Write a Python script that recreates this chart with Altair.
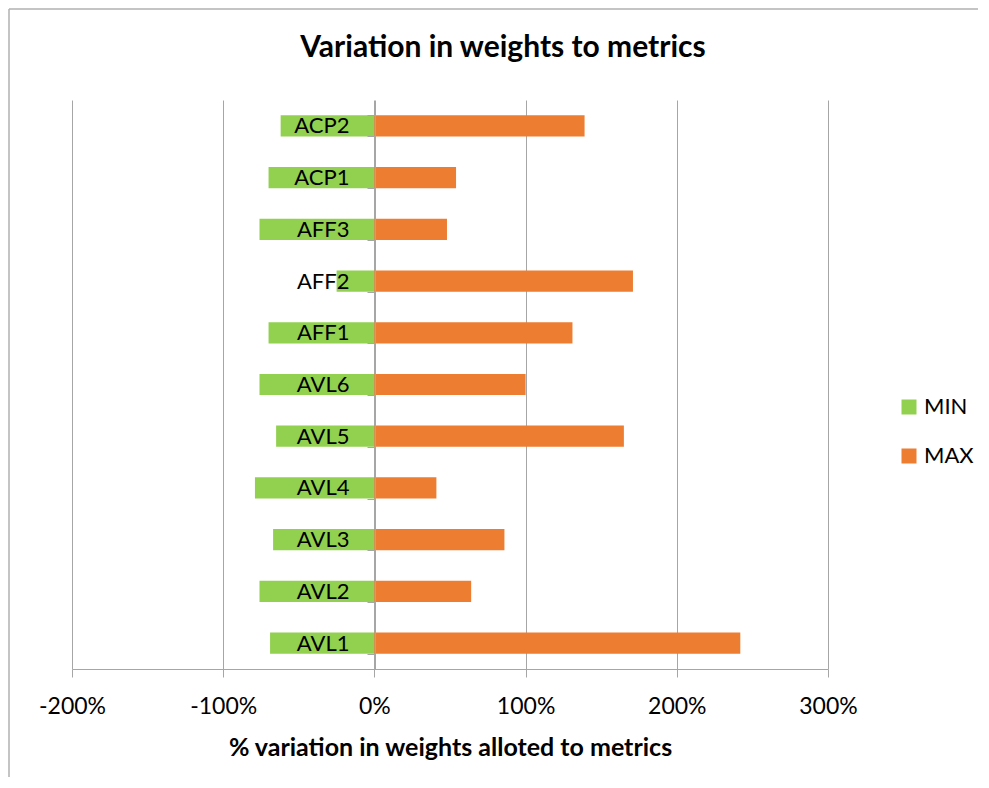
import altair as alt
import pandas as pd

categories = ["ACP2", "ACP1", "AFF3", "AFF2", "AFF1", "AVL6", "AVL5", "AVL4", "AVL3", "AVL2", "AVL1"]
min_vals = [-62, -70, -76, -25, -70, -76, -65, -79, -67, -76, -69]
max_vals = [139, 54, 48, 171, 131, 100, 165, 41, 86, 64, 242]
series = ["MIN", "MAX"]
x_ticks = [-200, -100, 0, 100, 200, 300]

rows = []
for c, mn, mx in zip(categories, min_vals, max_vals):
    rows.append({"metric": c, "series": "MIN", "value": mn})
    rows.append({"metric": c, "series": "MAX", "value": mx})
df = pd.DataFrame(rows)

FONT = "Lato"
GRID = "#a6a6a6"

bars = alt.Chart(df).mark_bar().encode(
    x=alt.X("value:Q",
            scale=alt.Scale(domain=[-200, 300], nice=False, zero=False),
            stack=None,
            axis=alt.Axis(values=x_ticks, labelExpr="datum.value + '%'",
                          title="% variation in weights alloted to metrics",
                          grid=True, gridColor=GRID, domainColor=GRID, tickColor=GRID,
                          tickSize=8, labelFontSize=23, labelPadding=18, labelColor="black",
                          labelFlush=False, labelOverlap=False,
                          titleFontSize=25, titleFontWeight="bold", titleColor="black",
                          titlePadding=17, zindex=0)),
    y=alt.Y("metric:N", sort=categories,
            scale=alt.Scale(paddingInner=0.59, paddingOuter=0.295),
            axis=alt.Axis(title=None, offset=-303, grid=False, tickBand="extent",
                          domainColor=GRID, tickColor=GRID, tickSize=8,
                          labelFontSize=22, labelPadding=18, labelColor="black", zindex=1)),
    color=alt.Color("series:N",
                    scale=alt.Scale(domain=series, range=["#92D050", "#ED7D31"]),
                    sort=series,
                    legend=alt.Legend(title=None, orient="none", legendX=826, legendY=296,
                                      symbolType="square", symbolSize=225, symbolStrokeWidth=0,
                                      labelFontSize=22, labelColor="black", labelOffset=4,
                                      rowPadding=27, padding=0)),
)

frame_data = alt.Data(values=[{"k": 1}])
left_line = alt.Chart(frame_data).mark_rule(color="#b0b0b0", strokeWidth=1.5).encode(
    x=alt.value(-63), y=alt.value(-91), y2=alt.value(700))
top_line = alt.Chart(frame_data).mark_rule(color="#b0b0b0", strokeWidth=1.5).encode(
    x=alt.value(-63), x2=alt.value(1000), y=alt.value(-91))

chart = alt.layer(left_line, top_line, bars).properties(
    width=756, height=569,
    title=alt.TitleParams("Variation in weights to metrics", fontSize=30, fontWeight="bold",
                          font=FONT, color="black", anchor="middle", dx=53,
                          baseline="alphabetic", offset=-79),
    autosize=alt.AutoSizeParams(type="none"),
    padding={"left": 64, "top": 92, "right": 150, "bottom": 108},
).configure(font=FONT).configure_view(stroke=None)

chart.save("out.html", embed_options={"renderer": "svg", "actions": False})
